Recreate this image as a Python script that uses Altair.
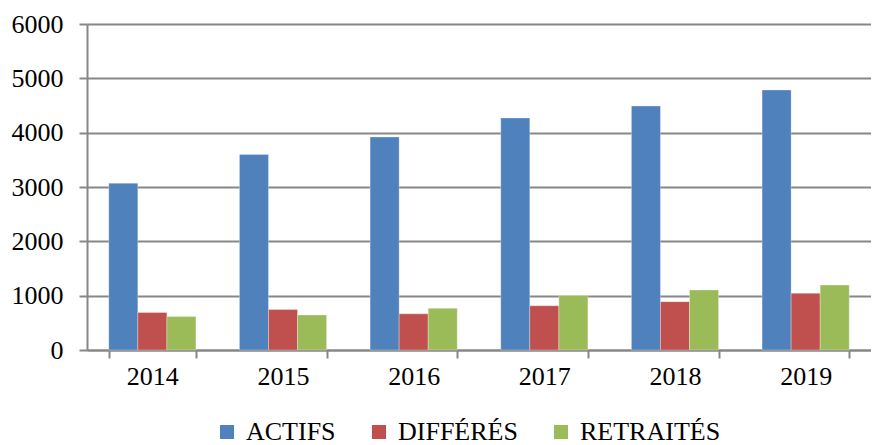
import altair as alt
import pandas as pd

years = ["2014", "2015", "2016", "2017", "2018", "2019"]
series = ["ACTIFS", "DIFFÉRÉS", "RETRAITÉS"]
actifs = [3070, 3600, 3920, 4270, 4490, 4785]
differes = [690, 745, 665, 815, 890, 1045]
retraites = [615, 645, 767, 1005, 1105, 1195]
colors = ["#4F81BD", "#C0504D", "#9BBB59"]

rows = []
for i, y in enumerate(years):
    for s, vals in zip(series, [actifs, differes, retraites]):
        rows.append({"year": y, "series": s, "value": vals[i]})
df = pd.DataFrame(rows)

font = "Liberation Serif"
grid_color = "#878787"

chart = alt.Chart(df).mark_bar(stroke="white", strokeWidth=0.5, strokeOpacity=0.6).encode(
    x=alt.X("year:N", sort=years, title=None,
            scale=alt.Scale(paddingInner=0.333, paddingOuter=0.1667),
            axis=alt.Axis(labelAngle=0, labelFont=font, labelFontSize=26, labelColor="black",
                          tickBand="extent", tickSize=8, tickColor=grid_color, tickWidth=2,
                          domainColor=grid_color, domainWidth=2, labelPadding=5, grid=False)),
    xOffset=alt.XOffset("series:N", sort=series, scale=alt.Scale(paddingInner=0, paddingOuter=0)),
    y=alt.Y("value:Q", title=None,
            scale=alt.Scale(domain=[0, 6000]),
            axis=alt.Axis(values=[0, 1000, 2000, 3000, 4000, 5000, 6000], format="d",
                          labelFont=font, labelFontSize=26, labelColor="black", tickSize=8,
                          tickColor=grid_color, tickWidth=2, domainColor=grid_color,
                          domainWidth=2, labelPadding=16, gridColor=grid_color, gridWidth=2)),
    color=alt.Color("series:N", sort=series,
                    scale=alt.Scale(domain=series, range=colors),
                    legend=alt.Legend(title=None, orient="none", direction="horizontal",
                                      legendX=127, legendY=395, symbolType="square",
                                      symbolSize=196, symbolStrokeWidth=0, labelFont=font,
                                      labelFontSize=26, labelColor="black", columnPadding=30,
                                      labelOffset=6, symbolOpacity=1)),
).properties(
    width=784, height=326,
    padding={"left": 79, "top": 16, "right": 0, "bottom": 95},
    autosize=alt.AutoSizeParams(type="none"),
).configure_view(stroke=None)

chart.save("out.html", embed_options={"renderer": "svg", "actions": False})
